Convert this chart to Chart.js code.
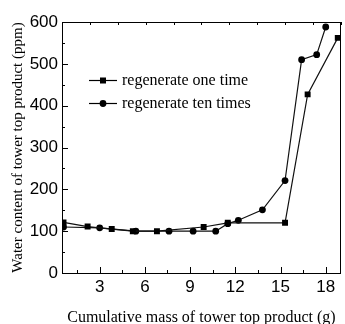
<!DOCTYPE html>
<html>
<head>
<meta charset="utf-8">
<script src="https://cdn.jsdelivr.net/npm/chart.js@4.4.0/dist/chart.umd.min.js"></script>
<style>
  body { margin: 0; background: #fff; }
  #wrap { width: 345px; height: 324px; }
</style>
</head>
<body>
<div id="wrap"><canvas id="myChart"></canvas></div>
<script>
const ctx = document.getElementById('myChart')

// data
const seriesNames = ['regenerate one time', 'regenerate ten times']
const massOne = [0.6, 2.2, 3.8, 5.2, 6.8, 9.9, 11.5, 15.3, 16.8, 18.8]
const waterOne = [121, 111, 105, 100, 100, 110, 120, 120, 427, 562]
const massTen = [0.6, 3.0, 5.4, 7.6, 9.2, 10.7, 11.5, 12.2, 13.8, 15.3, 16.4, 17.4, 18.0]
const waterTen = [110, 108, 100, 100, 100, 100, 118, 126, 151, 221, 510, 522, 588]
const xTicks = [1.5, 3, 4.5, 6, 7.5, 9, 10.5, 12, 13.5, 15, 16.5, 18]
const xLabels = [3, 6, 9, 12, 15, 18]
const yLabels = [0, 100, 200, 300, 400, 500, 600]

const toPoints = (xs, ys) => xs.map((x, i) => ({x: x, y: ys[i]}))

// frame, inward ticks and the legend inside the plot
const frameTicks = {
    id: 'frameTicks',
    afterDraw(chart) {
        const c = chart.ctx
        const a = chart.chartArea
        const sx = chart.scales.x
        const sy = chart.scales.y
        const st = chart.scales.x2
        c.save()
        c.strokeStyle = '#000'
        c.lineWidth = 1
        c.strokeRect(Math.round(a.left) + 0.5, Math.round(a.top) + 0.5, Math.round(a.width) - 1, Math.round(a.height))
        c.beginPath()
        sx.ticks.forEach(t => {
            const px = Math.round(sx.getPixelForValue(t.value)) + 0.5
            const len = xLabels.includes(t.value) ? 6 : 3
            c.moveTo(px, a.bottom)
            c.lineTo(px, a.bottom - len)
        })
        sy.ticks.forEach(t => {
            const py = Math.round(sy.getPixelForValue(t.value)) + 0.5
            const len = yLabels.includes(t.value) ? 6 : 3
            c.moveTo(a.left, py)
            c.lineTo(a.left + len, py)
        })
        st.ticks.forEach(t => {
            const px = Math.round(st.getPixelForValue(t.value)) + 0.5
            c.moveTo(px, a.top)
            c.lineTo(px, a.top + 3)
        })
        c.stroke()

        const rows = [{y: 80, style: 'rect'}, {y: 103, style: 'circle'}]
        c.font = '16px "Liberation Serif"'
        c.textBaseline = 'middle'
        c.fillStyle = '#000'
        rows.forEach((r, i) => {
            c.beginPath()
            c.moveTo(89, r.y + 0.5)
            c.lineTo(117, r.y + 0.5)
            c.lineWidth = 1.2
            c.stroke()
            if (r.style === 'rect') {
                c.fillRect(100, r.y - 2.5, 6, 6)
            } else {
                c.beginPath()
                c.arc(103, r.y + 0.5, 3.4, 0, Math.PI * 2)
                c.fill()
            }
            c.fillText(seriesNames[i], 122, r.y + 1)
        })
        c.restore()
    }
}

new Chart(ctx, {
    type: 'scatter',
    data: {
        datasets: [
            {
                label: seriesNames[0],
                data: toPoints(massOne, waterOne),
                showLine: true,
                borderColor: '#111',
                backgroundColor: '#000',
                borderWidth: 1.2,
                pointStyle: 'rect',
                pointRadius: 4.2,
                pointBorderWidth: 0
            },
            {
                label: seriesNames[1],
                data: toPoints(massTen, waterTen),
                showLine: true,
                borderColor: '#111',
                backgroundColor: '#000',
                borderWidth: 1.2,
                pointStyle: 'circle',
                pointRadius: 3.4,
                pointBorderWidth: 0
            }
        ]
    },
    plugins: [frameTicks],
    options: {
        responsive: true,
        maintainAspectRatio: false,
        animation: false,
        layout: {
            padding: {left: 0, right: 2, top: 22, bottom: 0}
        },
        plugins: {
            legend: {display: false},
            tooltip: {enabled: false}
        },
        scales: {
            x: {
                type: 'linear',
                min: 0.5,
                max: 19,
                afterBuildTicks: scale => { scale.ticks = xTicks.map(v => ({value: v})) },
                afterFit: scale => { scale.height = 51 },
                grid: {display: false, drawTicks: false},
                border: {display: false},
                ticks: {
                    autoSkip: false,
                    maxRotation: 0,
                    padding: 4,
                    color: '#000',
                    font: {family: '"Liberation Sans"', size: 17},
                    callback: v => xLabels.includes(v) ? v : ''
                },
                title: {
                    display: true,
                    text: 'Cumulative mass of tower top product (g)',
                    color: '#000',
                    font: {family: '"Liberation Serif"', size: 16},
                    padding: {top: 0, bottom: -3}
                }
            },
            x2: {
                type: 'linear',
                position: 'top',
                min: 0,
                max: 10,
                afterFit: scale => { scale.height = 0 },
                grid: {display: false, drawTicks: false},
                border: {display: false},
                ticks: {display: false, stepSize: 1}
            },
            y: {
                min: 0,
                max: 600,
                afterFit: scale => { scale.width = 62 },
                grid: {display: false, drawTicks: false},
                border: {display: false},
                ticks: {
                    stepSize: 50,
                    autoSkip: false,
                    padding: 4,
                    color: '#000',
                    font: {family: '"Liberation Sans"', size: 17},
                    callback: v => yLabels.includes(v) ? v : ''
                },
                title: {
                    display: true,
                    text: 'Water content of tower top product (ppm)',
                    color: '#000',
                    font: {family: '"Liberation Serif"', size: 15},
                    padding: {top: 9, bottom: 0}
                }
            }
        }
    }
})
</script>
</body>
</html>
